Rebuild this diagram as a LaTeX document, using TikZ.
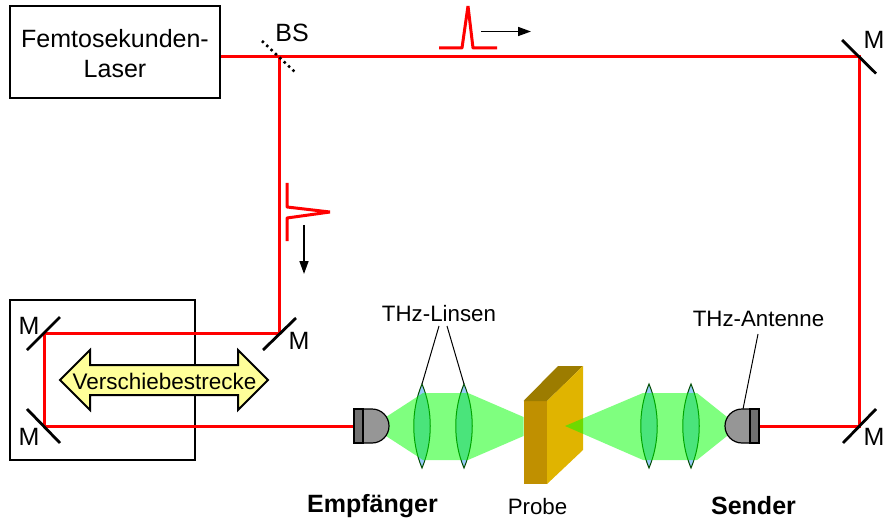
\documentclass[tikz,border=0pt]{standalone}
\usepackage{fontspec}
\setmainfont{Liberation Sans}
\usetikzlibrary{arrows.meta}
\definecolor{beamred}{HTML}{FF0000}
\definecolor{lensblue}{HTML}{96CAF8}
\definecolor{pfront}{HTML}{C09000}
\definecolor{ptop}{HTML}{9C7C00}
\definecolor{pside}{HTML}{E0B400}
\definecolor{dome}{HTML}{969696}
\definecolor{arrowy}{HTML}{FFFF99}
\tikzset{
 beam/.style={draw=beamred,line width=3pt,line join=miter},
 pulse/.style={draw=beamred,line width=3pt,line join=bevel},
 frame/.style={draw=black,line width=2.2pt,fill=none},
 mirror/.style={draw=black,line width=2.8pt},
 lbl/.style={font=\fontsize{22.3}{26}\selectfont,inner sep=0pt,text=black},
 mlbl/.style={font=\fontsize{25}{26}\selectfont,inner sep=0pt,text=black},
 blbl/.style={font=\fontsize{25}{26}\selectfont\bfseries,inner sep=0pt,text=black},
 leader/.style={draw=black,line width=1pt},
 motion/.style={draw=black,line width=1.6pt,-{Triangle[length=13pt,width=9pt]}},
 gbeam/.style={fill=green,fill opacity=.5,draw=none},
 lens/.style={fill=lensblue,draw=black!70!green,line width=1pt},
 body/.style={fill=dome,draw=black,line width=1.2pt},
}
\newcommand{\lensat}[1]{\path[lens] (#1,384) .. controls (#1+11,410) and (#1+11,442) .. (#1,468) .. controls (#1-11,442) and (#1-11,410) .. (#1,384) -- cycle;}
\begin{document}
\begin{tikzpicture}[x=1pt,y=-1pt]
\useasboundingbox (0,0) rectangle (885,521);
% frames
\node[frame,minimum width=210pt,minimum height=92pt,inner sep=0pt] (laser) at (115,52) {};
\node[inner sep=0pt,align=center,font=\fontsize{25}{30}\selectfont] (lasertext) at (115,54) {Femtosekunden-\\Laser};
\node[frame,minimum width=185pt,minimum height=160pt] (stage) at (102.5,380) {};
% lenses under beam
\lensat{422}\lensat{464}\lensat{649}\lensat{691}
% probe
\coordinate (pa) at (523.5,401); \coordinate (pb) at (547,401);
\coordinate (pc) at (583,366); \coordinate (pd) at (558,366);
\coordinate (pe) at (583,450); \coordinate (pf) at (547,484); \coordinate (pg) at (523.5,484);
\fill[pfront] (pa) -- (pb) -- (pf) -- (pg) -- cycle;
\fill[ptop] (pa) -- (pb) -- (pc) -- (pd) -- cycle;
\fill[pside] (pb) -- (pc) -- (pe) -- (pf) -- cycle;
% THz beams
\path[gbeam] (386,417) -- (423,393) -- (468,393) -- (523.5,417) -- (523.5,436) -- (468,460) -- (423,460) -- (386,436) -- cycle;
\path[gbeam] (565,426) -- (643,393) -- (697,393) -- (727,417) -- (727,436) -- (697,460) -- (643,460) -- cycle;
% optical coordinates
\coordinate (bs) at (279,57);
\coordinate (m1) at (859,57);
\coordinate (m2) at (859,426);
\coordinate (m3) at (279,333);
\coordinate (m4) at (44,333);
\coordinate (m5) at (44,426);
% receiver and sender
\path[body] (363,409) -- (372,409) arc[start angle=-90,end angle=90,radius=17] -- (363,443) -- cycle;
\path[body] (750,409) -- (742,409) arc[start angle=-90,end angle=-270,radius=17] -- (750,443) -- cycle;
\node[body,draw,minimum width=9pt,minimum height=34pt,inner sep=0pt,fill=dome!75!black] (rx) at (358.5,426) {};
\node[body,draw,minimum width=9pt,minimum height=34pt,inner sep=0pt,fill=dome!75!black] (tx) at (754.5,426) {};
% beams
\draw[beam] (laser.east |- bs) -- (bs) -- (m1) -- (m2) -- (tx.east);
\draw[beam] (bs) -- (m3) -- (m4) -- (m5) -- (rx.west);
% mirrors
\draw[mirror] (842,40) -- (876,73.5);
\draw[mirror] (843,443) -- (876,409);
\draw[mirror] (263,350) -- (296,318);
\draw[mirror] (27,350) -- (60,317);
\draw[mirror] (27,409) -- (60,443);
\draw[black,line width=2.6pt,dash pattern=on 2.4pt off 3.6pt] (262,41) -- (296,73);
% double arrow
\path[fill=arrowy,draw=black,line width=2pt,line join=miter] (60,380) -- (90,350) -- (90,365) -- (238,365) -- (238,350) -- (268,380) -- (238,410) -- (238,395) -- (90,395) -- (90,410) -- cycle;
\node[font=\fontsize{22.5}{26}\selectfont,inner sep=0pt] (vs) at (164.5,381) {Verschiebestrecke};
% pulses
\draw[pulse] (439,48) -- (462,48) -- (468,6) -- (473,48) -- (497,48);
\draw[pulse] (287,183) -- (287,207) -- (330,212) -- (287,218) -- (287,241);
\coordinate (a1) at (481,31.5); \coordinate (a2) at (531,31.5);
\coordinate (a3) at (304,225); \coordinate (a4) at (304,274);
\draw[motion] (a1) -- (a2);
\draw[motion] (a3) -- (a4);
% labels
\node[mlbl] (lbs) at (292,33) {BS};
\node[mlbl] (lm1) at (874,40) {M};
\node[mlbl] (lm2) at (874,437) {M};
\node[mlbl] (lm3) at (299,341) {M};
\node[mlbl] (lm4) at (29,326) {M};
\node[mlbl] (lm5) at (29,437) {M};
\node[lbl] (linsen) at (439,314) {THz-Linsen};
\node[lbl] (ant) at (758.5,319) {THz-Antenne};
\node[lbl] (probe) at (537.5,507) {Probe};
\node[blbl] (emp) at (372.5,506) {Empfänger};
\node[blbl] (send) at (753.5,506) {Sender};
% leaders
\coordinate (l1) at (422,384); \coordinate (l2) at (464,384); \coordinate (l3) at (743,409);
\draw[leader] (439,326) -- (l1);
\draw[leader] (447,326) -- (l2);
\draw[leader] (758,334) -- (l3);
\end{tikzpicture}
\end{document}
